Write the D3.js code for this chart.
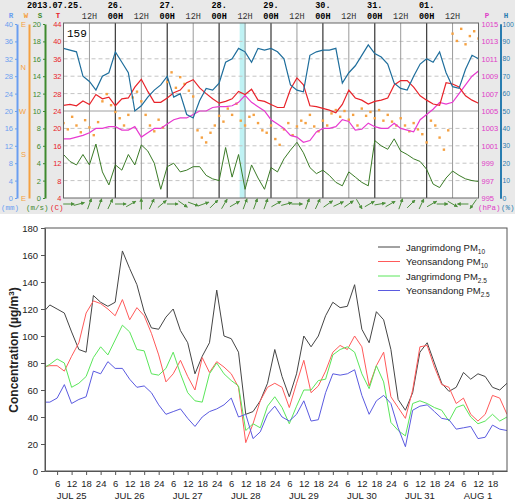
<!DOCTYPE html>
<html>
<head>
<meta charset="utf-8">
<script src="https://cdn.jsdelivr.net/npm/d3@7"></script>
<style>
    body { margin: 0; background: #fff; }
    svg { display: block; }
</style>
</head>
<body>
<div id="chart"></div>
<script>
// top meteogram, hours from 2013-07-25 00H, one value every 3 hours
var hours3 = d3.range(0, 193, 3);
var humidity = [86, 85, 84, 70, 67, 62, 70, 72, 84, 78, 72, 50, 53, 58, 62, 65, 70, 58, 60, 48,
    46, 56, 63, 62, 66, 78, 80, 86, 84, 78, 86, 85, 86, 84, 80, 65, 62, 61, 82, 84,
    85, 85, 86, 66, 72, 76, 82, 88, 83, 81, 77, 66, 63, 62, 70, 77, 80, 78, 84, 72,
    64, 63, 74, 82, 80];
var temperature = [25.3, 25.5, 25.2, 26.3, 25.5, 27.8, 26.8, 27.2, 25.2, 26.8, 27, 29.5, 31.3, 28.5, 26, 26, 27, 28.2, 28.8, 30.5,
    31.2, 29.3, 28, 26.8, 25.8, 26.2, 26.8, 28.5, 27.8, 29, 26.5, 26.2, 25.5, 24.8, 24.8, 29, 31.6, 30, 25.2, 25,
    24.6, 24.2, 23.6, 25.5, 28.8, 27, 26.5, 25.6, 26.2, 26.5, 27, 30, 31, 31, 29.5, 27.5, 26.5, 25.6, 25.3, 30.5,
    30.2, 29.5, 27.5, 26.5, 25.8];
var pressure = [1001.8, 1001.8, 1002, 1002.2, 1002.5, 1003, 1003, 1003.2, 1003.2, 1002.8, 1002.8, 1003.2, 1002, 1002.5, 1003, 1003, 1003.5, 1004, 1004.2, 1004.2,
    1004.6, 1005, 1005, 1005.4, 1005.5, 1005.5, 1005.6, 1006, 1006.8, 1006, 1005.5, 1005, 1004, 1003.5, 1003, 1002.2, 1002, 1001.4, 1001.6, 1002.6,
    1003, 1003, 1003.2, 1004, 1003.8, 1002.8, 1002.9, 1003.6, 1003.2, 1003, 1003, 1003.6, 1003, 1002.8, 1002.6, 1004, 1004.6, 1005.2, 1006, 1005.8,
    1006, 1007, 1008, 1009, 1009.6];
var windSpeed = [5, 4.2, 3.8, 5, 3.8, 6.2, 3, 1.5, 3.8, 3.2, 5, 3.8, 6.1, 5.4, 4, 1, 3.6, 4, 3, 3.2,
    3.6, 3.6, 2.6, 2.2, 2, 5.8, 2.4, 5, 1, 3.8, 2.3, 1, 3.5, 3, 4.5, 5.5, 6.4, 5.2, 3.5, 2.8,
    3.2, 2.6, 1.8, 1.4, 3, 2.4, 1.8, 1.4, 6.6, 6, 5.6, 6.8, 5.4, 5, 4.5, 4.2, 3.3, 1.6, 1.2, 2.3,
    3.1, 2.6, 2.2, 2, 1.9];

// wind direction in degrees, every 2 hours
var hours2 = d3.range(0, 193, 2);
var windDir = [245, 232, 258, 240, 226, 251, 236, 220, 247,
    290, 305, 282, 268,
    255, 240, 262, 298, 310,
    290, 262, 240, 228, 252, 236,
    330, 350, 318, 340, 326, 312, 300, 230, 215,
    205, 225, 240, 260, 248,
    275, 262, 285, 250, 240, 258,
    262, 245, 230, 225, 240,
    212, 200, 232, 245, 220, 238, 250,
    245, 262, 238, 228, 250, 240, 265, 272,
    258, 270, 252, 262, 240, 275, 260,
    268, 255, 272, 250, 262, 248, 240,
    255, 240, 228, 245, 232, 222, 205, 250,
    240, 215, 190, 230,
    70, 55, 80, 48, 65, 75, 60];

// wind arrows along the bottom row (screen angle, degrees counter-clockwise from east)
var arrowAngles = [0, 15, 70, 70, 65, 0, 30, 90, 65, 40, 0, -35, -20, 20, 45, 60, 30, 70, 70, 70,
    30, 15, 0, 70, 65, 35, 25, 35, -60, 30, 10, 30, 70, 45, 65, 30, 0, -30, 180, 235];

var dayLabels = ['26.', '27.', '28.', '29.', '30.', '31.', '01.'];
var windLabels = ['E', 'N', 'W', 'S', 'E'];
var windLabelDeg = [450, 360, 270, 180, 90];
var highlight = [81.5, 84.3];

// bottom chart, PM concentrations every 3 hours
var pmHours = d3.range(0, 193, 3);
var jangPM10 = [117, 123, 120, 117, 103, 90, 88, 130, 125, 122, 125, 163, 150, 138, 118, 106, 105, 114, 120, 104,
    95, 72, 85, 95, 134, 100, 98, 88, 42, 44, 52, 65, 90, 70, 55, 72, 100, 92, 100, 115,
    125, 121, 122, 138, 105, 95, 118, 112, 90, 53, 45, 58, 88, 95, 80, 65, 59, 62, 73, 68,
    72, 70, 62, 60, 65];
var yeonPM10 = [77, 78, 78, 74, 85, 95, 117, 126, 124, 120, 115, 127, 112, 121, 115, 102, 86, 66, 72, 82,
    70, 60, 84, 73, 81, 77, 72, 62, 21, 35, 52, 62, 65, 62, 47, 65, 82, 58, 63, 74,
    88, 93, 90, 100, 92, 63, 78, 88, 55, 47, 39, 60, 92, 93, 77, 64, 62, 50, 54, 42,
    37, 42, 56, 54, 42];
var jangPM25 = [76, 79, 83, 80, 62, 65, 70, 84, 92, 86, 97, 108, 103, 90, 89, 72, 71, 76, 88, 72,
    58, 52, 51, 72, 80, 72, 67, 63, 30, 35, 32, 48, 55, 47, 35, 48, 60, 60, 67, 68,
    86, 90, 92, 88, 72, 61, 78, 66, 36, 30, 26, 50, 52, 50, 47, 45, 37, 47, 49, 40,
    35, 37, 42, 37, 40];
var yeonPM25 = [51, 51, 54, 64, 50, 53, 55, 74, 72, 81, 76, 76, 68, 62, 63, 58, 49, 42, 44, 46,
    39, 33, 40, 44, 46, 49, 54, 40, 42, 24, 29, 42, 48, 40, 37, 42, 52, 37, 38, 58,
    72, 71, 72, 75, 56, 42, 52, 56, 50, 32, 18, 45, 48, 49, 44, 39, 38, 31, 32, 33,
    24, 25, 34, 31, 30];
var pmSeries = [jangPM10, yeonPM10, jangPM25, yeonPM25];
var seriesNames = ['Jangrimdong PM', 'Yeonsandong PM', 'Jangrimdong PM', 'Yeonsandong PM'];
var seriesSubs = ['10', '10', '2.5', '2.5'];
var seriesColors = ['#454545', '#ff5a5a', '#5ae65a', '#5a5ae0'];
var pmTicks = d3.range(6, 192, 6);
var pmDays = ['JUL 25', 'JUL 26', 'JUL 27', 'JUL 28', 'JUL 29', 'JUL 30', 'JUL 31', 'AUG 1'];

var svg = d3.select('#chart').append('svg')
    .attr('width', 515)
    .attr('height', 502)
    .style('font-family', 'Liberation Sans, Arial, sans-serif');

var defs = svg.append('defs');
defs.append('clipPath').attr('id', 'clipTop')
    .append('rect').attr('x', 63.5).attr('y', 23).attr('width', 415).attr('height', 175);
defs.append('clipPath').attr('id', 'clipPm')
    .append('rect').attr('x', 45).attr('y', 228).attr('width', 462).attr('height', 243);
defs.append('marker')
    .attr('id', 'head')
    .attr('viewBox', '0 0 6 6')
    .attr('refX', 5).attr('refY', 3)
    .attr('markerWidth', 4).attr('markerHeight', 4)
    .attr('orient', 'auto')
    .append('path').attr('d', 'M0,0L6,3L0,6Z').style('fill', '#4d8f3c');

function line(xs, xScale, yScale) {
    return d3.line()
        .x(function(d, i) { return xScale(xs[i]); })
        .y(function(d) { return yScale(d); });
}

// ---------------- meteogram ----------------
var meteo = svg.append('g');
var mono = 'Liberation Mono, DejaVu Sans Mono, monospace';

var x = d3.scaleLinear().domain([0, 192]).range([63.5, 478.5]);
var yT = d3.scaleLinear().domain([4, 44]).range([198, 24]);
var yH = d3.scaleLinear().domain([0, 100]).range([198, 24]);
var yP = d3.scaleLinear().domain([995, 1015]).range([198, 24]);
var yS = d3.scaleLinear().domain([0, 20]).range([198, 24]);
var yR = d3.scaleLinear().domain([0, 40]).range([198, 24]);
var yW = d3.scaleLinear().domain([90, 450]).range([198, 24]);

meteo.append('rect').attr('width', 515).attr('height', 214).style('fill', '#e9e9e9');
meteo.append('rect')
    .attr('x', x(0)).attr('y', 23)
    .attr('width', x(192) - x(0)).attr('height', 175)
    .style('fill', '#fff');

meteo.append('rect')
    .attr('x', x(highlight[0])).attr('y', 23)
    .attr('width', x(highlight[1]) - x(highlight[0])).attr('height', 175)
    .style('fill', '#bff2f4');

meteo.append('g').selectAll('line')
    .data(d3.range(8, 44, 4))
    .join('line')
    .attr('x1', x(0)).attr('x2', x(192))
    .attr('y1', function(d) { return yT(d); })
    .attr('y2', function(d) { return yT(d); })
    .style('stroke', function(d) { return d === 24 ? '#a0a0a0' : '#c4c4c4'; })
    .style('stroke-dasharray', function(d) { return d === 24 ? null : '4,3'; });

meteo.append('g').selectAll('line')
    .data(d3.range(12, 192, 12))
    .join('line')
    .attr('x1', function(d) { return x(d); })
    .attr('x2', function(d) { return x(d); })
    .attr('y1', 23).attr('y2', 198)
    .style('stroke', function(d) { return d % 24 === 0 ? '#444' : '#9a9a9a'; })
    .style('stroke-width', function(d) { return d % 24 === 0 ? 1.3 : 1; });

var plot = meteo.append('g').attr('clip-path', 'url(#clipTop)');

plot.append('g').selectAll('rect')
    .data(windDir)
    .join('rect')
    .attr('x', function(d, i) { return x(hours2[i]) - 1.2; })
    .attr('y', function(d) { return yW(d < 90 ? d + 360 : d) - 1.2; })
    .attr('width', 2.4).attr('height', 2.4)
    .style('fill', '#f5a142');

plot.append('path').datum(windSpeed)
    .attr('d', line(hours3, x, yS))
    .style('fill', 'none').style('stroke', '#3a7a26').style('stroke-width', 1);
plot.append('path').datum(pressure)
    .attr('d', line(hours3, x, yP))
    .style('fill', 'none').style('stroke', '#e83ad0').style('stroke-width', 1.2);
plot.append('path').datum(temperature)
    .attr('d', line(hours3, x, yT))
    .style('fill', 'none').style('stroke', '#e8232a').style('stroke-width', 1.2);
plot.append('path').datum(humidity)
    .attr('d', line(hours3, x, yH))
    .style('fill', 'none').style('stroke', '#1f6e9c').style('stroke-width', 1.2);

meteo.append('rect')
    .attr('x', x(0)).attr('y', 23)
    .attr('width', x(192) - x(0)).attr('height', 175)
    .style('fill', 'none').style('stroke', '#666');

meteo.append('text')
    .attr('x', 67).attr('y', 37)
    .style('font-family', mono).style('font-size', '11px')
    .text('159');

// left and right axes
function styleAxis(g, color, width, size) {
    g.select('.domain').style('stroke', color).style('stroke-width', width);
    g.selectAll('.tick line').style('stroke', color);
    g.selectAll('.tick text').style('fill', color).style('font-size', size || '7.5px')
        .style('font-family', 'Liberation Sans, Arial, sans-serif');
}

meteo.append('g').attr('transform', 'translate(17,0)')
    .call(d3.axisLeft(yR).tickValues(d3.range(0, 41, 4)).tickSize(2).tickPadding(2).tickSizeOuter(0))
    .call(styleAxis, '#6a9ef0', 2);
meteo.append('g').attr('transform', 'translate(29,0)')
    .call(d3.axisLeft(yW).tickValues(windLabelDeg).tickSize(0).tickPadding(3)
        .tickFormat(function(d, i) { return windLabels[i]; }))
    .call(styleAxis, '#f5a142', 2);
meteo.append('g').attr('transform', 'translate(45,0)')
    .call(d3.axisLeft(yS).tickValues(d3.range(0, 21, 2)).tickSize(2).tickPadding(2).tickSizeOuter(0))
    .call(styleAxis, '#3e8a2e', 2);
meteo.append('g').attr('transform', 'translate(63.5,0)')
    .call(d3.axisLeft(yT).tickValues(d3.range(4, 45, 4)).tickSize(0).tickPadding(2))
    .call(styleAxis, '#e8232a', 0);
meteo.append('g').attr('transform', 'translate(478.5,0)')
    .call(d3.axisRight(yP).tickValues(d3.range(995, 1016, 2)).tickSize(0).tickPadding(3)
        .tickFormat(d3.format('d')))
    .call(styleAxis, '#e03cc8', 0);
meteo.append('g').attr('transform', 'translate(500.5,0)')
    .call(d3.axisRight(yH).tickValues(d3.range(0, 101, 10)).tickSize(1).tickPadding(1).tickSizeOuter(0))
    .call(styleAxis, '#2a7db0', 2, '6.8px');

var titles = [['R', 11, '#6a9ef0'], ['W', 26, '#f5a142'], ['S', 40, '#3e8a2e'], ['T', 58, '#e8232a'],
    ['P', 487, '#e03cc8'], ['H', 506, '#2a7db0']];
meteo.append('g').selectAll('text')
    .data(titles)
    .join('text')
    .attr('x', function(d) { return d[1]; })
    .attr('y', 18)
    .attr('text-anchor', 'middle')
    .style('font-family', mono).style('font-size', '7.5px').style('font-weight', 'bold')
    .style('fill', function(d) { return d[2]; })
    .text(function(d) { return d[0]; });

var units = [['(mm)', 1, '#6a9ef0'], ['(m/s)', 26, '#3e8a2e'], ['(C)', 50, '#e8232a'],
    ['(hPa)', 478, '#e03cc8'], ['(%)', 501, '#2a7db0']];
meteo.append('g').selectAll('text')
    .data(units)
    .join('text')
    .attr('x', function(d) { return d[1]; })
    .attr('y', 210)
    .style('font-family', mono).style('font-size', '7.5px')
    .style('fill', function(d) { return d[2]; })
    .text(function(d) { return d[0]; });

// date header
meteo.append('text')
    .attr('x', 27).attr('y', 8)
    .style('font-family', mono).style('font-size', '8.5px').style('font-weight', 'bold')
    .text('2013.07.25.');
var header = meteo.append('g')
    .style('font-family', mono).style('font-size', '8.5px')
    .attr('text-anchor', 'middle');
header.selectAll('text.day')
    .data(dayLabels)
    .join('text')
    .attr('class', 'day')
    .attr('x', function(d, i) { return x((i + 1) * 24); })
    .attr('y', 8)
    .style('font-weight', 'bold')
    .text(function(d) { return d; });
header.selectAll('text.zero')
    .data(dayLabels)
    .join('text')
    .attr('class', 'zero')
    .attr('x', function(d, i) { return x((i + 1) * 24); })
    .attr('y', 19)
    .style('font-weight', 'bold')
    .text('00H');
header.selectAll('text.noon')
    .data(d3.range(12, 192, 24))
    .join('text')
    .attr('class', 'noon')
    .attr('x', function(d) { return x(d); })
    .attr('y', 19)
    .style('fill', '#333')
    .text('12H');

// wind arrows
meteo.append('g').selectAll('line')
    .data(arrowAngles)
    .join('line')
    .each(function(a, i) {
        var cx = x((i + 0.5) * 192 / arrowAngles.length);
        var cy = 204;
        var r = a * Math.PI / 180;
        var dx = Math.cos(r) * 5.5, dy = -Math.sin(r) * 5.5;
        d3.select(this)
            .attr('x1', cx - dx).attr('y1', cy - dy)
            .attr('x2', cx + dx).attr('y2', cy + dy);
    })
    .style('stroke', '#4d8f3c')
    .style('stroke-width', 1)
    .attr('marker-end', 'url(#head)');

// ---------------- PM chart ----------------
var pm = svg.append('g');
var xPm = d3.scaleLinear().domain([1, 192]).range([45, 507]);
var yPm = d3.scaleLinear().domain([0, 180]).range([471, 228]);

var lines = pm.append('g').attr('clip-path', 'url(#clipPm)');
pmSeries.forEach(function(s, i) {
    lines.append('path').datum(s)
        .attr('d', line(pmHours, xPm, yPm))
        .style('fill', 'none')
        .style('stroke', seriesColors[i])
        .style('stroke-width', 1);
});

pm.append('rect')
    .attr('x', 45).attr('y', 228).attr('width', 462).attr('height', 243)
    .style('fill', 'none').style('stroke', '#555');

var yAxis = pm.append('g').attr('transform', 'translate(45,0)')
    .call(d3.axisLeft(yPm).tickValues(d3.range(0, 181, 20)).tickSize(4).tickPadding(3).tickSizeOuter(0));
var xAxis = pm.append('g').attr('transform', 'translate(0,471)')
    .call(d3.axisBottom(xPm).tickValues(pmTicks).tickSize(4).tickPadding(5).tickSizeOuter(0)
        .tickFormat(function(d) { return d % 24 === 0 ? 24 : d % 24; }));
[yAxis, xAxis].forEach(function(g) {
    g.select('.domain').style('stroke', '#555');
    g.selectAll('.tick line').style('stroke', '#555');
    g.selectAll('.tick text').style('fill', '#222').style('font-size', '9.5px')
        .style('font-family', 'Liberation Sans, Arial, sans-serif');
});

pm.append('g').selectAll('text')
    .data(pmDays)
    .join('text')
    .attr('x', function(d, i) { return xPm(i * 24 + 12); })
    .attr('y', 499)
    .attr('text-anchor', 'middle')
    .style('font-size', '9.5px').style('fill', '#222')
    .text(function(d) { return d; });

var ylab = pm.append('text')
    .attr('transform', 'translate(18,350) rotate(-90)')
    .attr('text-anchor', 'middle')
    .style('font-size', '12px').style('font-weight', 'bold').style('fill', '#222');
ylab.append('tspan').text('Concentration (\u00b5g/m');
ylab.append('tspan').attr('dy', -4).style('font-size', '8px').text('3');
ylab.append('tspan').attr('dy', 4).text(')');

// legend
var legend = pm.append('g');
seriesNames.forEach(function(name, i) {
    var ly = 247 + i * 14.5;
    legend.append('line')
        .attr('x1', 378).attr('x2', 400).attr('y1', ly).attr('y2', ly)
        .style('stroke', seriesColors[i]).style('stroke-width', 1);
    var t = legend.append('text')
        .attr('x', 406).attr('y', ly + 3.5)
        .style('font-size', '9.5px').style('fill', '#222');
    t.append('tspan').text(name);
    t.append('tspan').attr('dy', 3).style('font-size', '6.5px').text(seriesSubs[i]);
});
</script>
</body>
</html>
